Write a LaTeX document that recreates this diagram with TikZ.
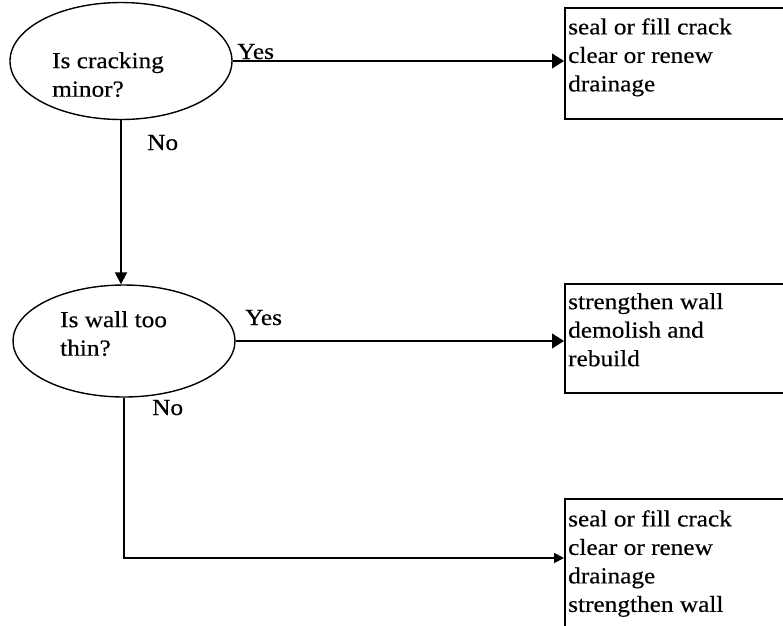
\documentclass[tikz,border=0pt]{standalone}
\usepackage{fontspec}
\setmainfont{Liberation Serif}[FakeStretch=1.1,FakeBold=0.4]
\usetikzlibrary{arrows.meta,calc,shapes.geometric}
\begin{document}
\begin{tikzpicture}[x=1pt,y=-1pt,
  question/.style={draw, ellipse, line width=1.4pt, inner sep=0pt},
  action/.style={draw, rectangle, line width=1.6pt, inner sep=0pt, anchor=north west, minimum width=240pt},
  txt/.style={inner sep=0pt, font=\fontsize{23}{28.5}\selectfont, align=left, anchor=north west},
  ans/.style={inner sep=0pt, font=\fontsize{23}{28}\selectfont, anchor=base west},
  yesflow/.style={line width=1.1pt, -{Triangle[length=12pt,width=15pt]}},
  noflow/.style={line width=1.8pt, -{Triangle[length=12pt,width=12pt]}},
  noflowb/.style={line width=1.8pt, -{Triangle[length=10pt,width=10pt]}}]
\path[use as bounding box] (0,0) rectangle (783,625);
\clip (0,0) rectangle (783,625);

% decisions
\node[question, minimum width=222pt, minimum height=117pt] (e1) at (121,61) {};
\node[question, minimum width=222pt, minimum height=112pt] (e2) at (124,341) {};
\node[txt] (q1) at (52,52) {Is cracking\\minor?};
\node[txt] (q2) at (60,311) {Is wall too\\thin?};

% actions (boxes run past the right edge)
\node[action, minimum height=111pt] (b1) at (564,7) {};
\node[action, minimum height=109pt] (b2) at (564,283) {};
\node[action, minimum height=150pt] (b3) at (564,498) {};
\node[txt] (a1) at (568,18) {seal or fill crack\\clear or renew\\drainage};
\node[txt] (a2) at (568,293) {strengthen wall\\demolish and\\rebuild};
\node[txt] (a3) at (568,510) {seal or fill crack\\clear or renew\\drainage\\strengthen wall};

% connectors
\draw[yesflow] (e1.east) -- (e1.east -| b1.west);
\draw[yesflow] (e2.east) -- (e2.east -| b2.west);
\draw[noflow] (e1.south) -- (e1.south |- e2.north);
\coordinate (in3) at ($(b3.north west)+(0,60)$);
\draw[noflowb] (e2.south) |- (in3);

% branch labels
\node[ans] (y1) at (237,59) {Yes};
\node[ans] (y2) at (245,325) {Yes};
\node[ans] (n1) at (147,150) {No};
\node[ans] (n2) at (152,415) {No};
\end{tikzpicture}
\end{document}
